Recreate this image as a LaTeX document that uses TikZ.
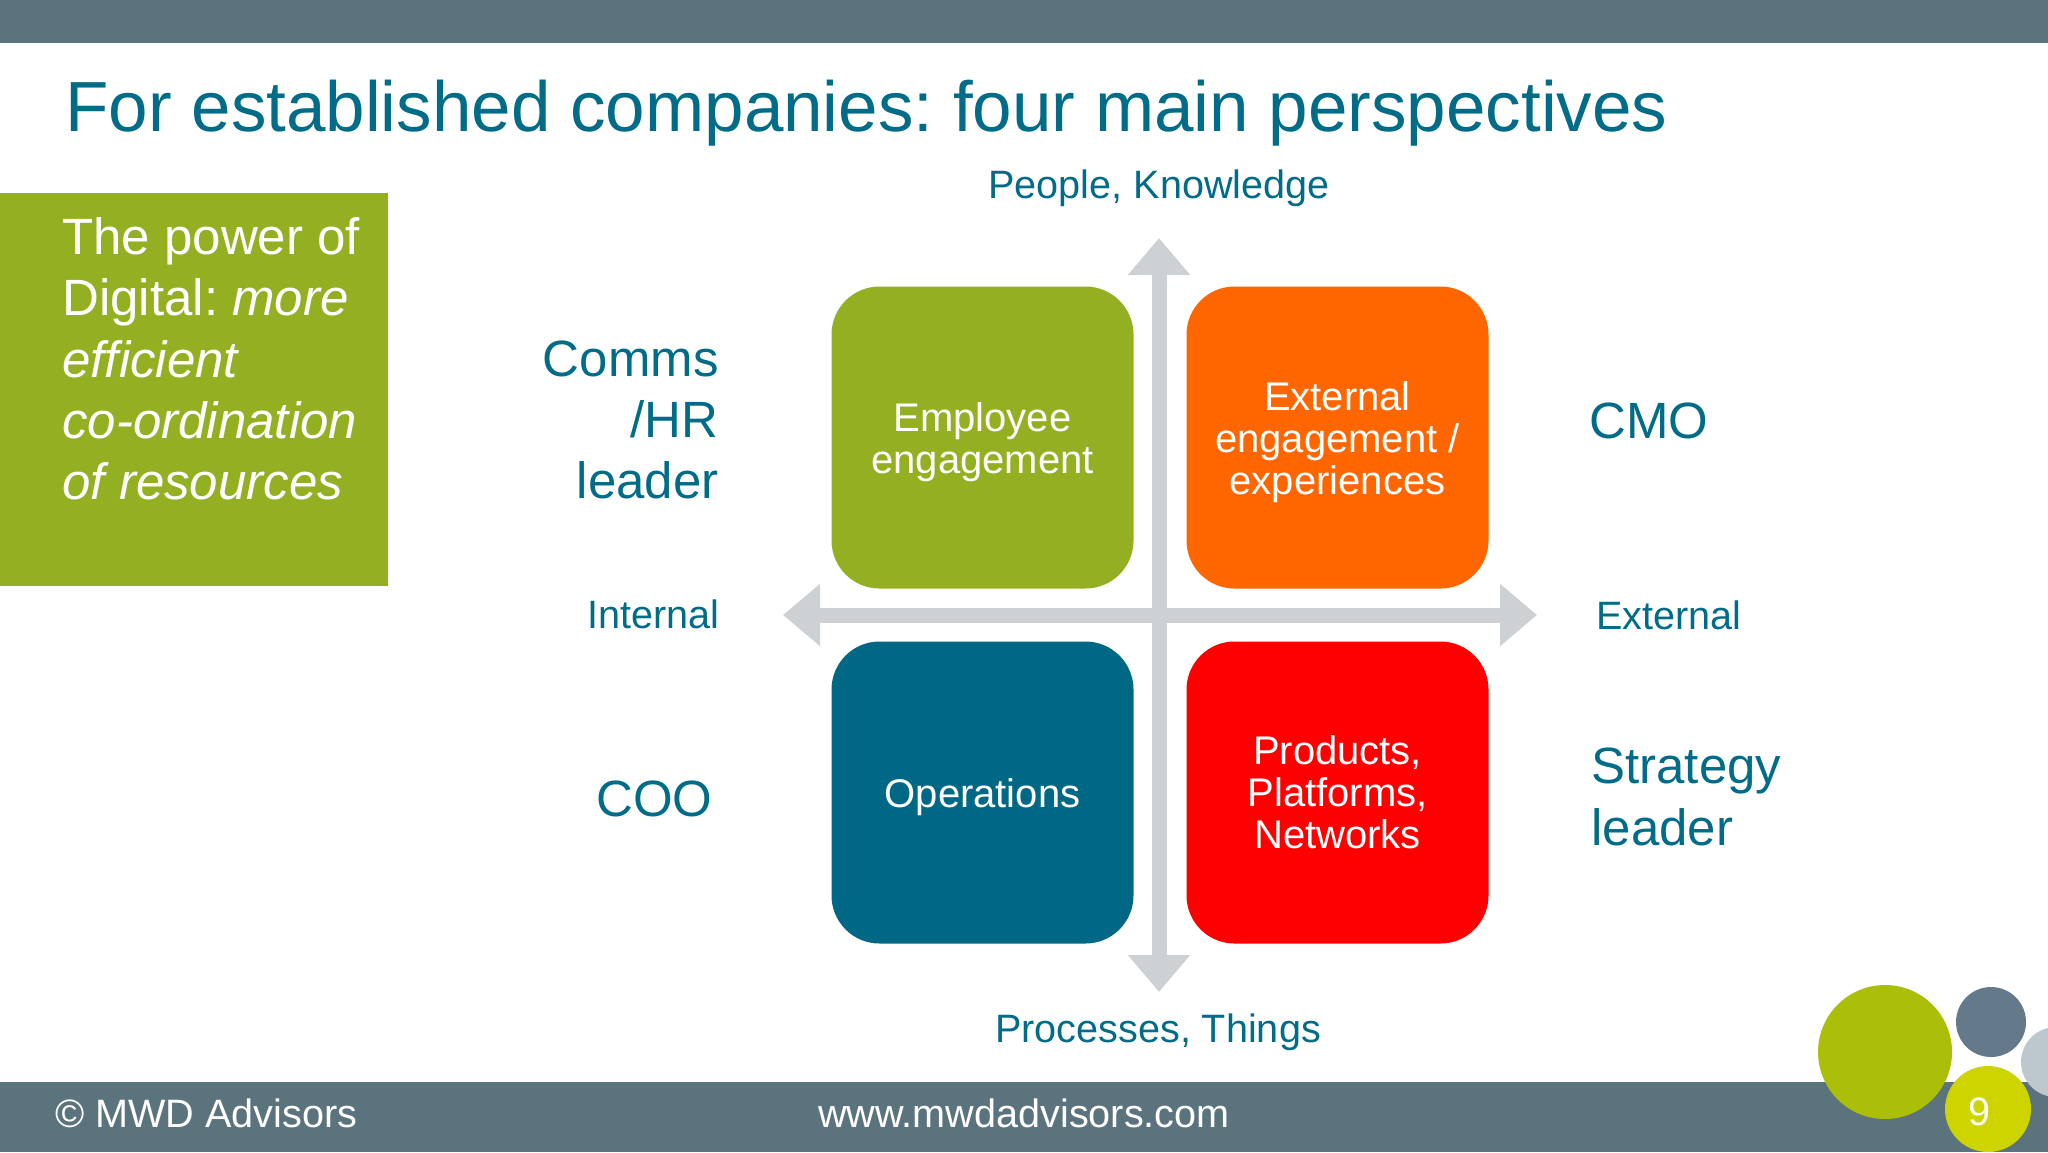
\documentclass[tikz,border=0pt]{standalone}
\usepackage{fontspec}
\setmainfont{Liberation Sans}
\usetikzlibrary{arrows.meta}

\definecolor{barcol}{HTML}{5A737C}
\definecolor{titlecol}{HTML}{006C87}
\definecolor{leafcol}{HTML}{93B023}
\definecolor{orangecol}{HTML}{FF6600}
\definecolor{tealcol}{HTML}{006884}
\definecolor{redcol}{HTML}{FF0000}
\definecolor{axiscol}{HTML}{CDD1D4}
\definecolor{olivecol}{HTML}{ACBF08}
\definecolor{slatecol}{HTML}{64798A}
\definecolor{palecol}{HTML}{BDC7CE}
\definecolor{limecol}{HTML}{CDD400}

\newlength\boxsize
\setlength\boxsize{151pt}
\newcommand\nodepth[1]{\raisebox{0pt}[\height][0pt]{#1}}
\frenchspacing

\tikzset{
  quad/.style={rectangle,rounded corners=24pt,minimum size=\boxsize,inner sep=0pt,
    text=white,align=center,font=\fontsize{20}{21}\selectfont},
  axisline/.style={axiscol,line width=7.5pt,{Triangle[length=18.5pt,width=30pt]}-{Triangle[length=18.5pt,width=30pt]}},
  small/.style={inner sep=0pt,text=titlecol,font=\fontsize{19.8}{24}\selectfont},
  role/.style={inner sep=0pt,text=titlecol,font=\fontsize{25.5}{30.7}\selectfont},
  foot/.style={inner sep=0pt,text=white,font=\fontsize{19.8}{24}\selectfont},
}

\begin{document}
\begin{tikzpicture}[x=0.5pt,y=-0.5pt]
    \useasboundingbox (0,0) rectangle (2048,1152);

    % bars
    \fill[barcol] (0,0) rectangle (2048,43);
    \fill[barcol] (0,1082) rectangle (2048,1152);

    \node[anchor=base west,inner sep=0pt,text=titlecol,font=\fontsize{35.5}{40}\selectfont] (title) at (65,131) {For established companies: four main perspectives};

    % left panel
    \fill[leafcol] (0,193) rectangle (388,586);
    \node[anchor=north west,inner sep=0pt,text=white,align=left,font=\fontsize{25.5}{30.7}\selectfont] (power) at (62,217)
      {The power of\\Digital: \textit{more}\\\textit{efficient}\\\textit{co-ordination}\\\textit{of resources}};

    % axes
    \coordinate (top) at (1159,238);
    \coordinate (bottom) at (1159,992);
    \coordinate (left) at (783,615);
    \coordinate (right) at (1537,615);
    \draw[axisline] (top) -- (bottom);
    \draw[axisline] (left) -- (right);

    % quadrants
    \node[quad,fill=leafcol] (employee) at (982.5,437.5) {Employee\\\nodepth{engagement}};
    \node[quad,fill=orangecol] (external) at (1337.5,437.5) {External\\engagement /\\\nodepth{experiences}};
    \node[quad,fill=tealcol] (operations) at (982.5,792.5) {\nodepth{Operations}};
    \node[quad,fill=redcol] (products) at (1337.5,792.5) {Products,\\Platforms,\\Networks};

    % axis labels
    \node[small] (people) at (1159,188) {People, Knowledge};
    \node[small] (processes) at (1158,1032) {Processes, Things};
    \node[small,anchor=east] (internal) at (720,614) {Internal};
    \node[small,anchor=west] (externallab) at (1596,615) {External};

    % roles
    \node[role,anchor=east,align=right] (comms) at (719,420) {Comms\\/HR\\leader};
    \node[role,anchor=west] (cmo) at (1589,421) {CMO};
    \node[role,anchor=west] (coo) at (596,799) {COO};
    \node[role,anchor=west,align=left] (strategy) at (1591,797) {Strategy\\leader};

    % footer
    \node[foot,anchor=west] (copyright) at (55,1113) {© MWD Advisors};
    \node[foot] (web) at (1024,1113) {www.mwdadvisors.com};

    % circles
    \foreach \x/\y/\r/\c in {1885/1052/67/olivecol,1991/1022/35/slatecol,2056/1062/35/palecol,1988/1109/43/limecol} {
      \fill[\c] (\x,\y) circle[radius=\r];
    }
    \node[foot] (page) at (1979,1112) {9};
\end{tikzpicture}
\end{document}
